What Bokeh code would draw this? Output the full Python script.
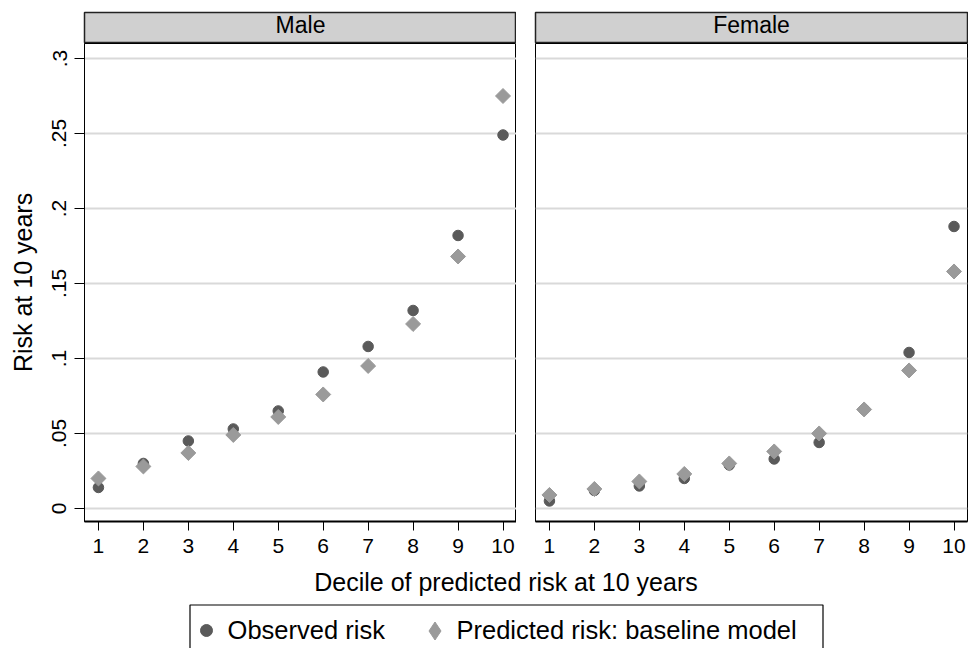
import math

from bokeh.plotting import figure
from bokeh.models import Range1d, FixedTicker, Label, Legend, LegendItem, BoxAnnotation
from bokeh.layouts import column, row
from bokeh.embed import file_html
from bokeh.resources import INLINE

# ---- data -------------------------------------------------------------
deciles = [1, 2, 3, 4, 5, 6, 7, 8, 9, 10]
male_observed = [0.014, 0.030, 0.045, 0.053, 0.065, 0.091, 0.108, 0.132, 0.182, 0.249]
male_predicted = [0.020, 0.028, 0.037, 0.049, 0.061, 0.076, 0.095, 0.123, 0.168, 0.275]
female_observed = [0.005, 0.012, 0.015, 0.020, 0.029, 0.033, 0.044, 0.066, 0.104, 0.188]
female_predicted = [0.009, 0.013, 0.018, 0.023, 0.030, 0.038, 0.050, 0.066, 0.092, 0.158]

y_ticks = [0, 0.05, 0.1, 0.15, 0.2, 0.25, 0.3]
y_tick_labels = ["0", ".05", ".1", ".15", ".2", ".25", ".3"]
panel_titles = ["Male", "Female"]
series_labels = ["Observed risk", "Predicted risk: baseline model"]
x_title = "Decile of predicted risk at 10 years"
y_title = "Risk at 10 years"

# ---- styling ----------------------------------------------------------
FONT = "Liberation Sans"
OBS_COLOR = "#5a5a5a"
PRED_COLOR = "#9a9a9a"
GRID_COLOR = "#d9d9d9"
STRIP_FILL = "#d0d0d0"

X_RANGE = (0.69, 10.3)
Y_RANGE = (-0.0087, 0.31)

FRAME_W = 432
FRAME_H = 478
STRIP_H = 43
PANEL_BOTTOM = 40
LEFT_M = 84        # room for the y axis of the first panel
GAP = 19           # space between the two panels
BOTTOM_H = 87      # x title + legend band
TOTAL_W = LEFT_M + FRAME_W + GAP + FRAME_W + 1


def strip(text, left, right):
    s = figure(width=left + FRAME_W + right, height=STRIP_H,
               x_range=Range1d(0, 1), y_range=Range1d(0, 1),
               x_axis_location=None, y_axis_location=None,
               output_backend="svg", toolbar_location=None,
               min_border_left=left, min_border_right=right,
               min_border_top=12, min_border_bottom=0)
    s.grid.visible = False
    s.background_fill_color = STRIP_FILL
    s.border_fill_color = "white"
    s.outline_line_color = "#222222"
    s.outline_line_width = 1.5
    s.add_layout(Label(x=0.5, y=0.6, text=text, text_align="center",
                       text_baseline="middle", text_font=FONT,
                       text_font_size="23px", text_color="black"))
    return s


def panel(observed, predicted, left, right, with_y_axis):
    p = figure(width=left + FRAME_W + right, height=FRAME_H + PANEL_BOTTOM,
               x_range=Range1d(*X_RANGE), y_range=Range1d(*Y_RANGE),
               y_axis_location="left" if with_y_axis else None,
               output_backend="svg", toolbar_location=None,
               min_border_left=left, min_border_right=right,
               min_border_top=0, min_border_bottom=PANEL_BOTTOM)
    p.background_fill_color = "white"
    p.border_fill_color = "white"
    p.outline_line_color = "black"
    p.outline_line_width = 1

    p.xgrid.visible = False
    p.ygrid.ticker = FixedTicker(ticks=y_ticks)
    p.ygrid.grid_line_color = GRID_COLOR
    p.ygrid.grid_line_width = 2

    xa = p.xaxis[0]
    xa.ticker = FixedTicker(ticks=deciles)
    xa.axis_line_color = "black"
    xa.axis_line_width = 2
    xa.major_tick_line_color = "black"
    xa.major_tick_line_width = 1
    xa.major_tick_out = 9
    xa.major_tick_in = 0
    xa.minor_tick_line_color = None
    xa.major_label_standoff = 8
    xa.major_label_text_font = FONT
    xa.major_label_text_font_size = "21px"
    xa.major_label_text_color = "black"

    if with_y_axis:
        ya = p.yaxis[0]
        ya.ticker = FixedTicker(ticks=y_ticks)
        ya.major_label_overrides = dict(zip(y_ticks, y_tick_labels))
        ya.major_label_orientation = "vertical"
        ya.axis_line_color = "black"
        ya.axis_line_width = 1
        ya.major_tick_line_color = "black"
        ya.major_tick_out = 10
        ya.major_tick_in = 0
        ya.minor_tick_line_color = None
        ya.major_label_standoff = 8
        ya.major_label_text_font = FONT
        ya.major_label_text_font_size = "21px"
        ya.major_label_text_color = "black"
        ya.axis_label = y_title
        ya.axis_label_standoff = 13
        ya.axis_label_text_font = FONT
        ya.axis_label_text_font_size = "25px"
        ya.axis_label_text_font_style = "normal"
        ya.axis_label_text_color = "black"

    p.scatter(deciles, observed, marker="circle", size=10.5,
              fill_color=OBS_COLOR, line_color=OBS_COLOR)
    p.scatter(deciles, predicted, marker="square", angle=math.pi / 4, size=10.6,
              fill_color=PRED_COLOR, line_color=PRED_COLOR)
    return p


strip_m = strip(panel_titles[0], LEFT_M, 0)
strip_f = strip(panel_titles[1], GAP, 1)
male = panel(male_observed, male_predicted, LEFT_M, 0, True)
female = panel(female_observed, female_predicted, GAP, 1, False)

# ---- shared x title and legend band (1 unit = 1 px) ------------------
b = figure(width=TOTAL_W, height=BOTTOM_H,
           x_range=Range1d(0, TOTAL_W), y_range=Range1d(0, BOTTOM_H),
           x_axis_location=None, y_axis_location=None,
           output_backend="svg", toolbar_location=None,
           min_border_left=0, min_border_right=0,
           min_border_top=0, min_border_bottom=0)
b.grid.visible = False
b.outline_line_color = None
b.background_fill_color = "white"
b.border_fill_color = "white"

b.add_layout(Label(x=505.5, y=67, text=x_title, text_align="center",
                   text_baseline="alphabetic", text_font=FONT,
                   text_font_size="25px", text_color="black"))

# frame around the key, running off the bottom edge
b.add_layout(BoxAnnotation(left=189.5, right=822.5, top=43.5, bottom=-20,
                           fill_color=None, fill_alpha=0.0,
                           line_color="black", line_alpha=1.0, line_width=1.2))

# key-only renderers: one undrawable (NaN) row so the legend has a style to use
nan = float("nan")
obs_key = b.scatter(x=[nan], y=[nan], marker="circle",
                    fill_color=OBS_COLOR, line_color=OBS_COLOR)
pred_key = b.scatter(x=[nan], y=[nan], marker="diamond",
                     fill_color=PRED_COLOR, line_color=PRED_COLOR)


def key(label, renderer, location, glyph, standoff):
    return Legend(
        items=[LegendItem(label=label, renderers=[renderer])],
        location=location, orientation="horizontal",
        padding=0, spacing=0, margin=0,
        glyph_width=glyph, glyph_height=glyph, label_standoff=standoff,
        label_height=glyph,
        label_text_font=FONT, label_text_font_size="25.5px",
        label_text_color="black", label_text_baseline="middle",
        border_line_color=None, background_fill_alpha=0.0,
    )


b.add_layout(key(series_labels[0], obs_key, (190.6, 3), 30, 7))
b.add_layout(key(series_labels[1], pred_key, (411.5, -4.5), 45, 0))

layout = column(row(strip_m, strip_f), row(male, female), b)

with open("out.html", "w") as f:
    f.write(file_html(layout, INLINE))
